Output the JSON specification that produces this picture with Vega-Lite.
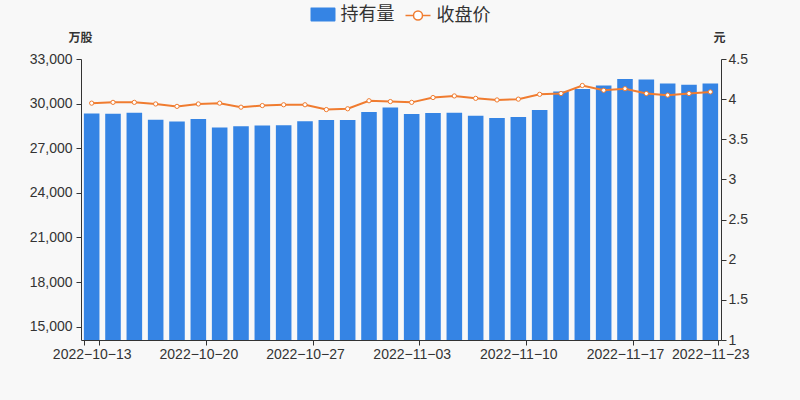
{
  "$schema": "https://vega.github.io/schema/vega-lite/v6.json",
  "width": 640,
  "height": 281,
  "autosize": "none",
  "padding": {"left": 81, "top": 59, "right": 79, "bottom": 60},
  "background": "#f8f8f8",
  "config": {
    "view": {"stroke": null},
    "font": "Liberation Sans",
    "axis": {
      "grid": false,
      "domainColor": "#333333",
      "tickColor": "#333333",
      "labelColor": "#333333",
      "labelFontSize": 14,
      "tickSize": 5,
      "titleColor": "#333333"
    },
    "legend": {"padding": 0, "titlePadding": 0}
  },
  "data": {
    "values": [
      {"date": "2022-10-13", "hold": 29330, "close": 3.95},
      {"date": "2022-10-14", "hold": 29320, "close": 3.96},
      {"date": "2022-10-17", "hold": 29390, "close": 3.96},
      {"date": "2022-10-18", "hold": 28920, "close": 3.94},
      {"date": "2022-10-19", "hold": 28790, "close": 3.91},
      {"date": "2022-10-20", "hold": 28970, "close": 3.94},
      {"date": "2022-10-21", "hold": 28400, "close": 3.95},
      {"date": "2022-10-24", "hold": 28470, "close": 3.90},
      {"date": "2022-10-25", "hold": 28520, "close": 3.92},
      {"date": "2022-10-26", "hold": 28540, "close": 3.93},
      {"date": "2022-10-27", "hold": 28810, "close": 3.93},
      {"date": "2022-10-28", "hold": 28900, "close": 3.87},
      {"date": "2022-10-31", "hold": 28900, "close": 3.88},
      {"date": "2022-11-01", "hold": 29440, "close": 3.98},
      {"date": "2022-11-02", "hold": 29730, "close": 3.97},
      {"date": "2022-11-03", "hold": 29300, "close": 3.96},
      {"date": "2022-11-04", "hold": 29370, "close": 4.02},
      {"date": "2022-11-07", "hold": 29390, "close": 4.04},
      {"date": "2022-11-08", "hold": 29190, "close": 4.01},
      {"date": "2022-11-09", "hold": 29040, "close": 3.99},
      {"date": "2022-11-10", "hold": 29100, "close": 4.00},
      {"date": "2022-11-11", "hold": 29570, "close": 4.06},
      {"date": "2022-11-14", "hold": 30810, "close": 4.07},
      {"date": "2022-11-15", "hold": 30990, "close": 4.17},
      {"date": "2022-11-16", "hold": 31210, "close": 4.11},
      {"date": "2022-11-17", "hold": 31660, "close": 4.13},
      {"date": "2022-11-18", "hold": 31620, "close": 4.07},
      {"date": "2022-11-21", "hold": 31350, "close": 4.05},
      {"date": "2022-11-22", "hold": 31260, "close": 4.07},
      {"date": "2022-11-23", "hold": 31350, "close": 4.09}
    ]
  },
  "encoding": {
    "x": {
      "field": "date",
      "type": "ordinal",
      "sort": null,
      "scale": {"paddingInner": 0.27, "paddingOuter": 0.135},
      "axis": {
        "title": null,
        "labelAngle": 0,
        "values": ["2022-10-13", "2022-10-20", "2022-10-27", "2022-11-03", "2022-11-10", "2022-11-17", "2022-11-23"],
        "tickBand": "extent",
        "labelPadding": 2,
        "labelExpr": "datum.value ? replace(replace(datum.value, '-', '−'), '-', '−') : ''"
      }
    }
  },
  "layer": [
    {
      "mark": {"type": "bar", "clip": true},
      "encoding": {
        "y": {
          "field": "hold",
          "type": "quantitative",
          "scale": {"domain": [14100, 33000], "nice": false, "zero": false},
          "axis": {
            "values": [15000, 18000, 21000, 24000, 27000, 30000, 33000],
            "format": ",.0f",
            "labelPadding": 4,
            "title": "万股",
            "titleAngle": 0,
            "titleX": -1,
            "titleY": -22,
            "titleAlign": "center",
            "titleBaseline": "middle",
            "titleFont": "Noto Sans CJK SC",
            "titleFontSize": 12,
            "titleFontWeight": "bold"
          }
        },
        "fill": {
          "datum": "持有量",
          "scale": {"range": ["#3584e4"]},
          "legend": {
            "title": null,
            "orient": "none",
            "legendX": 229.5,
            "legendY": -57,
            "symbolType": "M-1,-0.5C-1,-0.56 -0.96,-0.56 -0.9,-0.56H0.9C0.96,-0.56 1,-0.52 1,-0.46V0.46C1,0.52 0.96,0.56 0.9,0.56H-0.9C-0.96,0.56 -1,0.52 -1,0.46Z",
            "symbolSize": 625,
            "symbolStrokeWidth": 0,
            "labelFont": "Noto Sans CJK SC",
            "labelFontSize": 18,
            "labelColor": "#333333",
            "labelOffset": 5
          }
        }
      }
    },
    {
      "mark": {
        "type": "line",
        "strokeWidth": 2,
        "point": {"filled": true, "fill": "#ffffff", "stroke": "#f07c30", "strokeWidth": 1, "size": 18}
      },
      "encoding": {
        "y": {
          "field": "close",
          "type": "quantitative",
          "scale": {"domain": [1, 4.5], "nice": false, "zero": false},
          "axis": {
            "orient": "right",
            "values": [1, 1.5, 2, 2.5, 3, 3.5, 4, 4.5],
            "format": ".1~f",
            "labelPadding": 2,
            "title": "元",
            "titleAngle": 0,
            "titleX": -2,
            "titleY": -22,
            "titleAlign": "center",
            "titleBaseline": "middle",
            "titleFont": "Noto Sans CJK SC",
            "titleFontSize": 12,
            "titleFontWeight": "bold"
          }
        },
        "stroke": {
          "datum": "收盘价",
          "scale": {"range": ["#f07c30"]},
          "legend": {
            "title": null,
            "orient": "none",
            "legendX": 323.5,
            "legendY": -57,
            "symbolType": "M-1,0H-0.36M0.36,0H1M0.36,0A0.36,0.36 0 1 1 -0.36,0A0.36,0.36 0 1 1 0.36,0Z",
            "symbolSize": 625,
            "symbolStrokeWidth": 1.5,
            "symbolFillColor": "#f8f8f8",
            "labelFont": "Noto Sans CJK SC",
            "labelFontSize": 18,
            "labelColor": "#333333",
            "labelOffset": 5
          }
        }
      }
    }
  ],
  "resolve": {"scale": {"y": "independent"}}
}
